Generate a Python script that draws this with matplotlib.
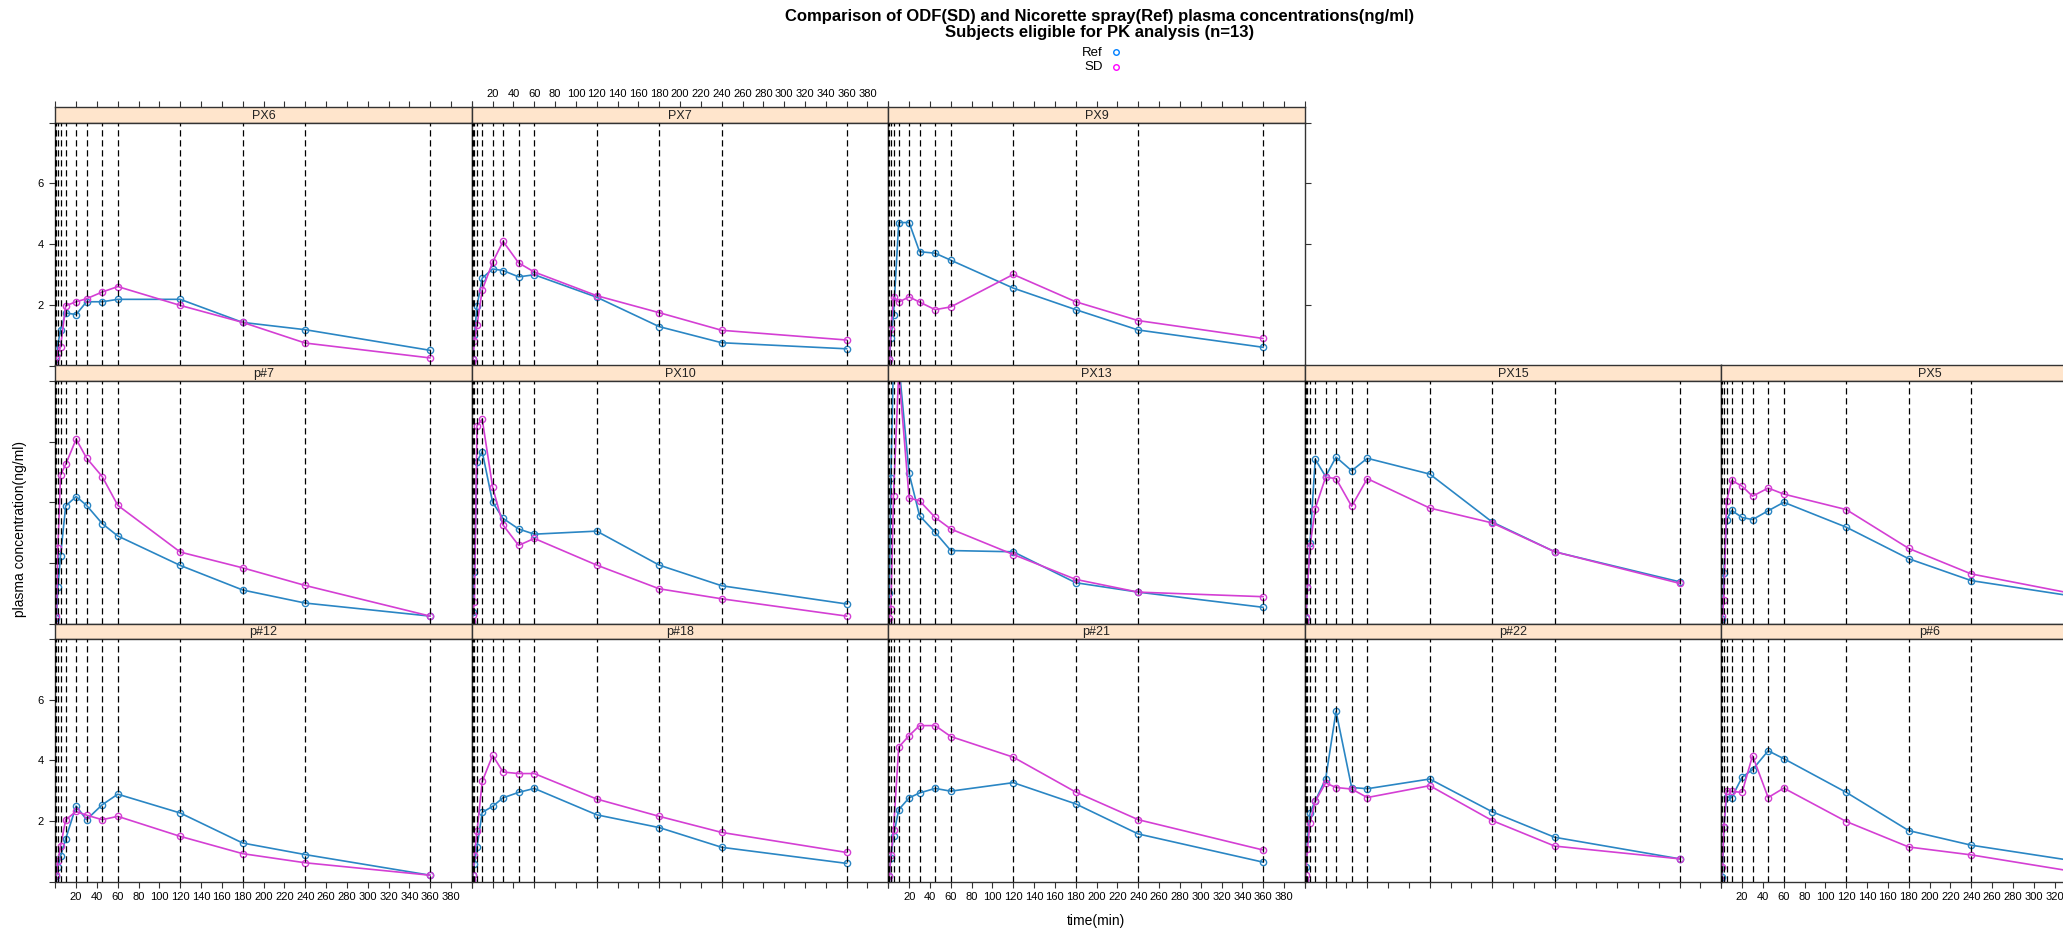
import matplotlib
matplotlib.use("Agg")
import matplotlib.pyplot as plt
from matplotlib.lines import Line2D

plt.rcParams['font.family'] = ['Liberation Sans', 'DejaVu Sans']

# sampling times (min)
times = [0, 1, 2.5, 5, 10, 20, 30, 45, 60, 120, 180, 240, 360]

# plasma concentrations (ng/ml)
px6_ref = [0.05, 0.3, 0.7, 1.18, 1.73, 1.68, 2.1, 2.1, 2.18, 2.18, 1.42, 1.18, 0.5]
px6_sd = [0.1, 0.25, 0.4, 0.6, 1.97, 2.1, 2.2, 2.42, 2.6, 1.98, 1.42, 0.74, 0.25]
px7_ref = [0.1, 0.2, 1.0, 1.96, 2.88, 3.18, 3.13, 2.92, 2.99, 2.25, 1.28, 0.75, 0.55]
px7_sd = [0.1, 0.2, 0.8, 1.33, 2.49, 3.4, 4.09, 3.38, 3.08, 2.3, 1.74, 1.16, 0.84]
px9_ref = [0.1, 0.2, 0.9, 1.66, 4.71, 4.71, 3.75, 3.7, 3.47, 2.55, 1.84, 1.17, 0.6]
px9_sd = [0.1, 0.2, 1.2, 2.27, 2.09, 2.26, 2.09, 1.84, 1.93, 3.0, 2.1, 1.48, 0.89]
p7_ref = [0.05, 0.2, 1.2, 2.23, 3.88, 4.19, 3.9, 3.3, 2.89, 1.92, 1.11, 0.68, 0.25]
p7_sd = [0.1, 0.25, 2.5, 4.9, 5.25, 6.08, 5.46, 4.85, 3.9, 2.36, 1.84, 1.26, 0.25]
px10_ref = [0.05, 0.4, 1.7, 5.34, 5.67, 4.0, 3.47, 3.12, 2.95, 3.05, 1.93, 1.25, 0.65]
px10_sd = [0.1, 0.3, 0.72, 6.52, 6.74, 4.5, 3.25, 2.58, 2.81, 1.93, 1.15, 0.82, 0.25]
px13_ref = [0.05, 1.0, 4.8, 8.8, 8.6, 4.95, 3.56, 3.01, 2.41, 2.37, 1.35, 1.04, 0.54]
px13_sd = [0.05, 0.2, 0.5, 4.22, 8.3, 4.14, 4.05, 3.5, 3.12, 2.28, 1.46, 1.04, 0.89]
px15_ref = [0.05, 0.2, 1.2, 2.66, 5.42, 4.85, 5.49, 5.04, 5.45, 4.93, 3.35, 2.37, 1.38]
px15_sd = [0.05, 0.23, 1.2, 2.55, 3.79, 4.83, 4.78, 3.87, 4.78, 3.81, 3.32, 2.37, 1.33]
px5_ref = [0.05, 0.15, 1.68, 3.43, 3.73, 3.5, 3.43, 3.72, 4.0, 3.18, 2.14, 1.42, 0.79]
px5_sd = [0.05, 0.25, 0.77, 4.03, 4.72, 4.53, 4.2, 4.47, 4.27, 3.76, 2.48, 1.64, 0.84]
p12_ref = [0.05, 0.2, 0.5, 0.84, 1.42, 2.5, 2.05, 2.54, 2.89, 2.27, 1.28, 0.9, 0.22]
p12_sd = [0.05, 0.22, 0.7, 1.17, 2.05, 2.32, 2.2, 2.05, 2.16, 1.5, 0.93, 0.63, 0.22]
p18_ref = [0.05, 0.22, 0.6, 1.16, 2.29, 2.49, 2.77, 2.95, 3.08, 2.21, 1.79, 1.14, 0.61]
p18_sd = [0.05, 0.22, 0.9, 1.67, 3.31, 4.17, 3.62, 3.57, 3.57, 2.73, 2.16, 1.63, 0.97]
p21_ref = [0.05, 0.2, 0.8, 1.52, 2.38, 2.77, 2.93, 3.08, 2.99, 3.27, 2.57, 1.58, 0.65]
p21_sd = [0.05, 0.2, 0.9, 1.71, 4.44, 4.82, 5.15, 5.15, 4.79, 4.11, 2.96, 2.05, 1.05]
p22_ref = [0.05, 0.5, 1.4, 2.26, 2.67, 3.39, 5.62, 3.11, 3.07, 3.39, 2.31, 1.47, 0.76]
p22_sd = [0.05, 0.22, 1.1, 1.95, 2.65, 3.26, 3.11, 3.06, 2.78, 3.17, 2.02, 1.18, 0.76]
p6_ref = [0.05, 0.17, 1.82, 2.81, 2.78, 3.45, 3.7, 4.32, 4.06, 2.95, 1.69, 1.21, 0.58]
p6_sd = [0.05, 0.5, 1.8, 3.01, 2.98, 2.95, 4.16, 2.78, 3.09, 1.99, 1.15, 0.89, 0.22]

# panel layout, top row first (lattice page)
layout = [
    [('PX6', px6_ref, px6_sd), ('PX7', px7_ref, px7_sd), ('PX9', px9_ref, px9_sd)],
    [('p#7', p7_ref, p7_sd), ('PX10', px10_ref, px10_sd), ('PX13', px13_ref, px13_sd),
     ('PX15', px15_ref, px15_sd), ('PX5', px5_ref, px5_sd)],
    [('p#12', p12_ref, p12_sd), ('p#18', p18_ref, p18_sd), ('p#21', p21_ref, p21_sd),
     ('p#22', p22_ref, p22_sd), ('p#6', p6_ref, p6_sd)],
]

W, H = 2063, 930
col_ref = '#2a86c4'
col_sd = '#d43fd4'
edge = '#333333'

left0 = 55.3
colw = 416.5
top0 = 107.3
rowh = 258.2
striph = 15.4

xt = list(range(0, 401, 20))
xl = ['' if v in (0, 400) else str(v) for v in xt]
yt = [0, 2, 4, 6, 8]
yl = ['', '2', '4', '6', '']


def frac(x, y, w, h):
    return [x / W, 1 - (y + h) / H, w / W, h / H]


fig = plt.figure(figsize=(W / 100, H / 100), dpi=100)

for r, row in enumerate(layout):
    for c, (name, ref, sd) in enumerate(row):
        x0 = left0 + c * colw
        ytop = top0 + r * rowh

        # strip
        sx = fig.add_axes(frac(x0, ytop, colw, striph))
        sx.set_facecolor('#ffe5cc')
        sx.set_xlim(0, 400)
        sx.set_yticks([])
        sx.text(0.5, 0.45, name, ha='center', va='center', fontsize=9,
                color='#222222', transform=sx.transAxes)
        if r == 0:
            sx.set_xticks(xt)
            sx.set_xticklabels(xl)
            sx.tick_params(axis='x', top=True, bottom=False, labelbottom=False,
                           labeltop=(c == 1), direction='out', length=4.3,
                           width=0.8, color=edge, labelsize=8, pad=2)
        else:
            sx.set_xticks([])
        for s in sx.spines.values():
            s.set_color(edge)
            s.set_linewidth(1)

        # panel
        ax = fig.add_axes(frac(x0, ytop + striph, colw, rowh - striph))
        ax.set_xlim(0, 400)
        ax.set_ylim(0, 8)
        ax.plot(times, ref, color=col_ref, lw=1.2, marker='o', ms=4.5,
                mfc='none', mec=col_ref, mew=1.0, zorder=2)
        ax.plot(times, sd, color=col_sd, lw=1.2, marker='o', ms=4.5,
                mfc='none', mec=col_sd, mew=1.0, zorder=2)
        for t in times:
            ax.axvline(t, color='black', lw=0.9, ls=(0, (5, 3)), zorder=3)

        # last column runs off the page, keep only the labels that fit
        lab = [s if (x0 + v * colw / 400 + 8) < W else '' for v, s in zip(xt, xl)]
        ax.set_xticks(xt)
        ax.set_xticklabels(lab)
        ax.set_yticks(yt)
        ax.set_yticklabels(yl)
        ax.tick_params(axis='x', bottom=(r == 2), top=False,
                       labelbottom=(r == 2 and c % 2 == 0),
                       direction='out', length=4.3, width=0.8, color=edge,
                       labelsize=8, pad=3)
        ax.tick_params(axis='y', left=(c == 0), right=(r == 0 and c == 2),
                       labelleft=(c == 0 and r != 1), labelright=False,
                       direction='out', length=4.3, width=0.8, color=edge,
                       labelsize=8, pad=4)
        for s in ax.spines.values():
            s.set_color(edge)
            s.set_linewidth(1)

fig.text(1100 / W, 1 - 16 / H,
         'Comparison of ODF(SD) and Nicorette spray(Ref) plasma concentrations(ng/ml)',
         ha='center', va='center', fontsize=12, fontweight='bold')
fig.text(1100 / W, 1 - 33 / H, 'Subjects eligible for PK analysis (n=13)',
         ha='center', va='center', fontsize=12, fontweight='bold')

# key
for lab, col, yy in [('Ref', '#0080ff', 52.5), ('SD', '#ff00ff', 67)]:
    fig.text(1103 / W, 1 - yy / H, lab, ha='right', va='center', fontsize=9.5)
    fig.add_artist(Line2D([1116 / W], [1 - yy / H], transform=fig.transFigure,
                          marker='o', ms=4, mfc='none', mec=col, mew=1, ls='none'))

fig.text(1096 / W, 1 - 921 / H, 'time(min)', ha='center', va='center', fontsize=10)
fig.text(20 / W, 1 - 529 / H, 'plasma concentration(ng/ml)', ha='center',
         va='center', rotation=90, fontsize=10)

fig.savefig('out.png', dpi=100)
